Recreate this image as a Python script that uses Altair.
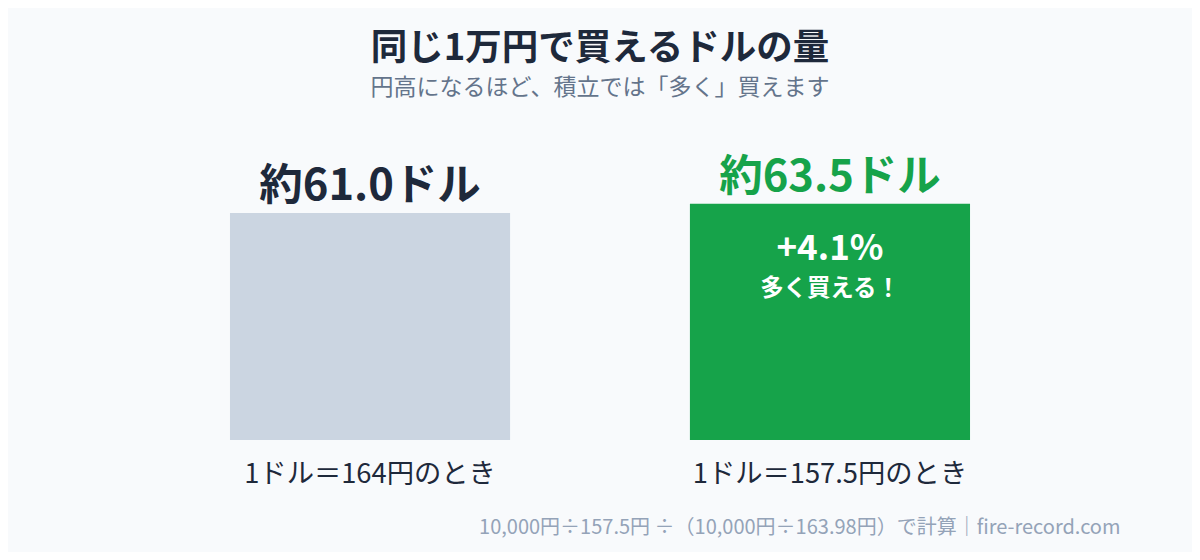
import altair as alt
import pandas as pd

# ---- data ----
categories = ["1ドル＝164円のとき", "1ドル＝157.5円のとき"]
dollars = [61.0, 63.5]
top_labels = ["約61.0ドル", "約63.5ドル"]
gain_pct = ["+4.1%"]
gain_msg = ["多く買える！"]

title_text = "同じ1万円で買えるドルの量"
subtitle_text = "円高になるほど、積立では「多く」買えます"
note_text = "10,000円÷157.5円 ÷（10,000円÷163.98円）で計算｜fire-record.com"

FONT = "Noto Sans CJK JP"

df = pd.DataFrame({"cond": categories, "usd": dollars, "label": top_labels})
df_in = pd.DataFrame({"cond": [categories[1]], "usd": [dollars[1]],
                      "pct": gain_pct, "msg": gain_msg})

x_enc = alt.X(
    "cond:N", sort=categories,
    scale=alt.Scale(paddingInner=0.391, paddingOuter=0.4826),
    axis=alt.Axis(
        title=note_text, labelAngle=0, domain=False, ticks=False, tickSize=0,
        labelFontSize=27.3, labelFont=FONT, labelFontWeight="normal", labelColor="#1e293b",
        labelBaseline="alphabetic", labelPadding=42, labelLimit=600,
        titleX=1112, titleY=93, titleAlign="right", titleBaseline="alphabetic",
        titleFontSize=20, titleFont=FONT, titleFontWeight="normal", titleColor="#94a3b8",
        titleLimit=1000,
    ),
)
y_enc = alt.Y("usd:Q", scale=alt.Scale(domain=[0, 80.65], nice=False), axis=None)

bars = alt.Chart(df).mark_bar().encode(
    x=x_enc, y=y_enc, y2=alt.datum(0),
    color=alt.Color("cond:N", scale=alt.Scale(domain=categories, range=["#cbd5e1", "#16a34a"]), legend=None),
)

tops = alt.Chart(df).mark_text(
    font=FONT, fontSize=43.5, fontWeight="bold", baseline="alphabetic", dy=-13
).encode(
    x=alt.X("cond:N", sort=categories), y=alt.Y("usd:Q"), text="label:N",
    color=alt.Color("cond:N", scale=alt.Scale(domain=categories, range=["#1e293b", "#16a34a"]), legend=None),
)

pct = alt.Chart(df_in).mark_text(
    font=FONT, fontSize=35, fontWeight="bold", baseline="alphabetic", dy=56, color="white"
).encode(x=alt.X("cond:N", sort=categories), y=alt.Y("usd:Q"), text="pct:N")

msg = alt.Chart(df_in).mark_text(
    font=FONT, fontSize=23.4, fontWeight="bold", baseline="alphabetic", dy=92, color="white"
).encode(x=alt.X("cond:N", sort=categories), y=alt.Y("usd:Q"), text="msg:N")

chart = alt.layer(bars, tops, pct, msg).resolve_scale(color="independent").properties(
    width=1184, height=300,
    autosize=alt.AutoSizeParams(type="none"),
    padding={"left": 0, "right": 0, "top": 132, "bottom": 112},
    background="#f8fafc",
    title=alt.Title(
        text=title_text, subtitle=subtitle_text, anchor="middle", offset=40,
        font=FONT, fontSize=36.5, fontWeight="bold", color="#1e293b",
        subtitleFont=FONT, subtitleFontSize=23, subtitleColor="#64748b",
        subtitleFontWeight="normal", subtitlePadding=10,
    ),
).configure_view(stroke=None)

chart.save("out.html", embed_options={"renderer": "svg", "actions": False})
